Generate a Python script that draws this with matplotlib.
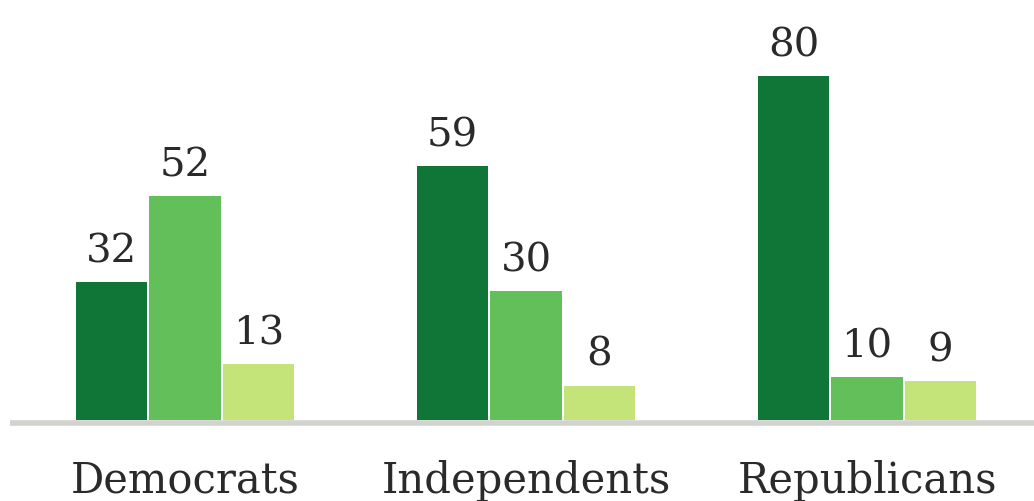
import matplotlib
matplotlib.use("Agg")
import matplotlib.pyplot as plt
import numpy as np

categories = ["Democrats", "Independents", "Republicans"]
series_dark = [32, 59, 80]
series_mid = [52, 30, 10]
series_light = [13, 8, 9]

colors = ["#0f7637", "#63bf5a", "#c4e47a"]

W, H = 1034, 502
fig = plt.figure(figsize=(W / 100, H / 100), dpi=100)
left_px = 10
ax = fig.add_axes([left_px / W, 0, 1 - left_px / W, 1])

unit = 341.0          # pixels per group
step = 73.3 / unit    # bar spacing
w = 71.5 / unit       # bar width (small white gaps)
ppu = 4.3             # pixels per value unit
base_row = 421        # pixel row (from top) of bar bottoms

x = np.arange(len(categories))
font = ["DejaVu Serif"]

for i, (vals, c) in enumerate(zip([series_dark, series_mid, series_light], colors)):
    xs = x + (i - 1) * step
    ax.bar(xs, vals, width=w, color=c, edgecolor="none", zorder=2)
    for xi, v in zip(xs, vals):
        ax.annotate(str(v), (xi, v), xytext=(0, 15), textcoords="offset points",
                    ha="center", va="baseline", fontsize=29, color="#2a2a2a",
                    family=font)

for xi, cat in zip(x, categories):
    ax.text(xi, -(493 - base_row) / ppu, cat, ha="center", va="baseline",
            fontsize=30, color="#2a2a2a", family=font)

ax.set_xlim(-(185 - left_px) / unit, (W - 185) / unit)
ax.set_ylim(-(H - base_row) / ppu, base_row / ppu)
ax.axhline(-0.75, color="#d2d2ce", linewidth=4, zorder=1)
ax.axis("off")

fig.savefig("out.png", dpi=100)
